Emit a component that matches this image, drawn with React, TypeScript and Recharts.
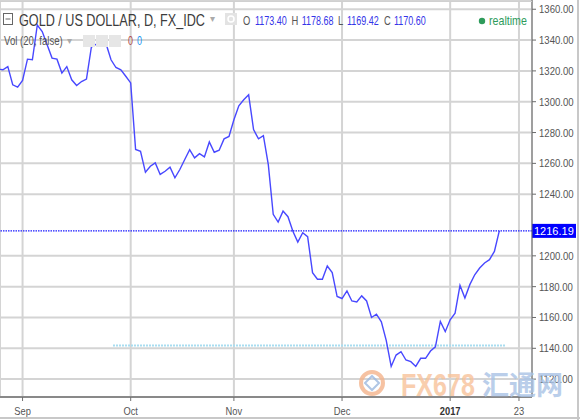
import React from 'react';
import { ComposedChart, Line, XAxis, YAxis, ReferenceLine, CartesianGrid } from 'recharts';

// Daily close, GOLD / US DOLLAR (FX_IDC)
const goldClose = [
  1321.2, 1320.7, 1322.8, 1311.0, 1309.5, 1313.8, 1327.6, 1327.2, 1349.8, 1345.5,
  1337.0, 1328.3, 1327.6, 1318.6, 1322.8, 1314.2, 1310.5, 1313.1, 1314.7, 1335.4,
  1337.3, 1337.8, 1337.5, 1327.2, 1322.2, 1320.7, 1316.5, 1312.2, 1269.0, 1267.8,
  1254.2, 1258.1, 1260.3, 1252.8, 1254.9, 1257.5, 1250.6, 1256.0, 1262.5, 1268.9,
  1263.6, 1266.3, 1264.2, 1273.9, 1267.2, 1268.5, 1275.9, 1277.5, 1288.3, 1297.4,
  1301.3, 1304.5, 1281.9, 1275.9, 1278.0, 1259.2, 1226.9, 1221.9, 1229.0, 1225.4,
  1216.0, 1208.9, 1215.0, 1212.4, 1189.1, 1184.8, 1184.8, 1193.4, 1189.1, 1173.6,
  1172.3, 1177.2, 1170.7, 1170.1, 1174.0, 1170.7, 1160.0, 1162.1, 1157.2, 1145.0,
  1128.2, 1135.6, 1137.8, 1132.4, 1131.3, 1128.2, 1133.5, 1133.5, 1138.2, 1141.0,
  1157.4, 1150.8, 1158.5, 1162.8, 1180.8, 1172.6, 1181.3, 1187.7, 1192.1, 1195.4,
  1197.5, 1202.9, 1216.19,
];

const monthTickIndex = [5, 27, 48, 70, 92, 106];
const monthTickLabel = ['Sep', 'Oct', 'Nov', 'Dec', '2017', '23'];
const boldTickLabels = ['2017'];

const priceTicks = [1120, 1140, 1160, 1180, 1200, 1240, 1260, 1280, 1300, 1320, 1340, 1360];

const lastPrice = 1216.19;
const volMaLevel = 1141.8;
const volMaFrom = 23.4;
const volMaTo = 103.2;

const xDomain = [0.41, 108.65];
const yDomain = [1108.4, 1366.0];

const headerOHLC = [
  { k: 'O', v: '1173.40' },
  { k: 'H', v: '1178.68' },
  { k: 'L', v: '1169.42' },
  { k: 'C', v: '1170.60' },
];

const data = goldClose.map((close, i) => ({ i, close }));

const FONT = '"Liberation Sans", Arial, sans-serif';
const GRID = '#d4d4d4';

function CText({ x, y, sx = 1, children, ...rest }: any) {
  return (
    <text transform={`translate(${x} ${y}) scale(${sx} 1)`} fontFamily={FONT} {...rest}>
      {children}
    </text>
  );
}

function XTick(props: any) {
  const { x, y, payload } = props;
  const idx = monthTickIndex.indexOf(payload.value);
  const label = idx >= 0 ? monthTickLabel[idx] : '';
  const bold = boldTickLabels.includes(label);
  return (
    <CText x={x} y={y + 12} sx={0.85} textAnchor="middle" fontSize={11} fill={bold ? '#333' : '#555'} fontWeight={bold ? 700 : 400}>
      {label}
    </CText>
  );
}

function YTick(props: any) {
  const { x, y, payload } = props;
  return (
    <CText x={x + 1} y={y + 4} sx={0.87} textAnchor="start" fontSize={11} fill="#555">
      {Number(payload.value).toFixed(2)}
    </CText>
  );
}

function PriceTag(props: any) {
  const vb = props.viewBox || {};
  const right = (vb.x || 0) + (vb.width || 0);
  const y = vb.y || 0;
  return (
    <g>
      <rect x={right} y={y - 7} width={44} height={14} fill="#0000ff" />
      <text x={right + 2} y={y + 4} fontSize={11} fill="#fff" fontFamily={FONT}>
        {lastPrice.toFixed(2)}
      </text>
    </g>
  );
}

function Header() {
  const ohlcX = [243, 255, 291.5, 301.7, 338, 347, 384, 394];
  return (
    <svg width={580} height={420} style={{ position: 'absolute', left: 0, top: 0, pointerEvents: 'none' }}>
      {/* frame */}
      <rect x={0} y={1} width={532} height={1} fill="#d0d0d0" />
      <rect x={577} y={0} width={2} height={420} fill="#c8c8c8" />
      <rect x={0} y={417} width={580} height={2} fill="#c8c8c8" />

      {/* row 1 */}
      <rect x={3.5} y={13.5} width={9} height={11} fill="none" stroke="#666" strokeWidth={1} />
      <line x1={5.5} y1={19} x2={10.5} y2={19} stroke="#666" strokeWidth={1} />
      <CText x={19} y={26} sx={0.79} fontSize={16} fill="#3c3c3c">GOLD / US DOLLAR, D, FX_IDC</CText>
      <CText x={210} y={22} sx={1} fontSize={10} fill="#aaa">▾</CText>
      <rect x={225} y={13} width={12} height={12} fill="#e3e3e3" />
      <circle cx={231} cy={19} r={3} fill="none" stroke="#fff" strokeWidth={1.5} />
      {headerOHLC.map((o, j) => (
        <g key={o.k}>
          <CText x={ohlcX[j * 2]} y={25} sx={0.78} fontSize={12} fill="#555">{o.k}</CText>
          <CText x={ohlcX[j * 2 + 1]} y={25} sx={0.75} fontSize={12} fill="#3535e8">{o.v}</CText>
        </g>
      ))}
      <circle cx={482} cy={21} r={3.2} fill="#2e9b5b" />
      <CText x={489} y={25} sx={0.89} fontSize={12} fill="#2e9b5b">realtime</CText>

      {/* row 2 */}
      <CText x={4} y={45} sx={0.74} fontSize={13} fill="#555">Vol (20, false)</CText>
      <CText x={67} y={44} sx={1} fontSize={10} fill="#aaa">▾</CText>
      {[83, 96, 109].map((bx) => (
        <g key={bx}>
          <rect x={bx} y={35} width={12} height={12} fill="#e6e6e6" />
        </g>
      ))}
      <CText x={128} y={45} sx={0.75} fontSize={12} fill="#b04a4a">0</CText>
      <CText x={137} y={45} sx={0.75} fontSize={12} fill="#2196f3">0</CText>

      {/* watermark */}
      <g opacity={0.8}>
        <circle cx={372} cy={383} r={11} fill="none" stroke="#f4b48c" strokeWidth={4} />
        <path d="M372 376 L379 383 L372 390 L365 383 Z" fill="none" stroke="#9db9df" strokeWidth={2} />
        <CText x={401} y={396} sx={0.785} fontSize={32} fontWeight={700} fill="#f8c39a">FX678</CText>
        <text x={482} y={395} fontSize={27} fontWeight={700} fill="#a9c3e6" fontFamily='"Noto Sans CJK SC", sans-serif'>汇通网</text>
      </g>
    </svg>
  );
}

export default function App() {
  return (
    <div style={{ position: 'absolute', left: 0, top: 0, width: 580, height: 420, background: '#fff', fontFamily: FONT }}>
      <ComposedChart width={580} height={420} data={data} margin={{ top: 0, right: 0, bottom: 0, left: 0 }}>
        <CartesianGrid stroke={GRID} strokeWidth={2} />
        <XAxis
          dataKey="i"
          type="number"
          domain={xDomain}
          allowDataOverflow
          ticks={monthTickIndex}
          tick={<XTick />}
          tickSize={4}
          height={23}
          axisLine={{ stroke: '#707070', strokeWidth: 1.5 }}
          tickLine={{ stroke: '#707070' }}
        />
        <YAxis
          orientation="right"
          type="number"
          domain={yDomain}
          allowDataOverflow
          ticks={priceTicks}
          tick={<YTick />}
          tickSize={4}
          width={48}
          axisLine={{ stroke: '#6b6b6b' }}
          tickLine={{ stroke: '#6b6b6b' }}
        />
        <ReferenceLine
          segment={[{ x: volMaFrom, y: volMaLevel }, { x: volMaTo, y: volMaLevel }]}
          stroke="#a9ddf0"
          strokeWidth={2}
          strokeDasharray="2 1"
        />
        <Line
          dataKey="close"
          type="linear"
          stroke="#4848ff"
          strokeWidth={1.4}
          dot={false}
          isAnimationActive={false}
        />
        <ReferenceLine y={lastPrice} stroke="#1a1aff" strokeWidth={1.3} strokeDasharray="1.5 1" label={<PriceTag />} />
      </ComposedChart>
      <Header />
    </div>
  );
}
